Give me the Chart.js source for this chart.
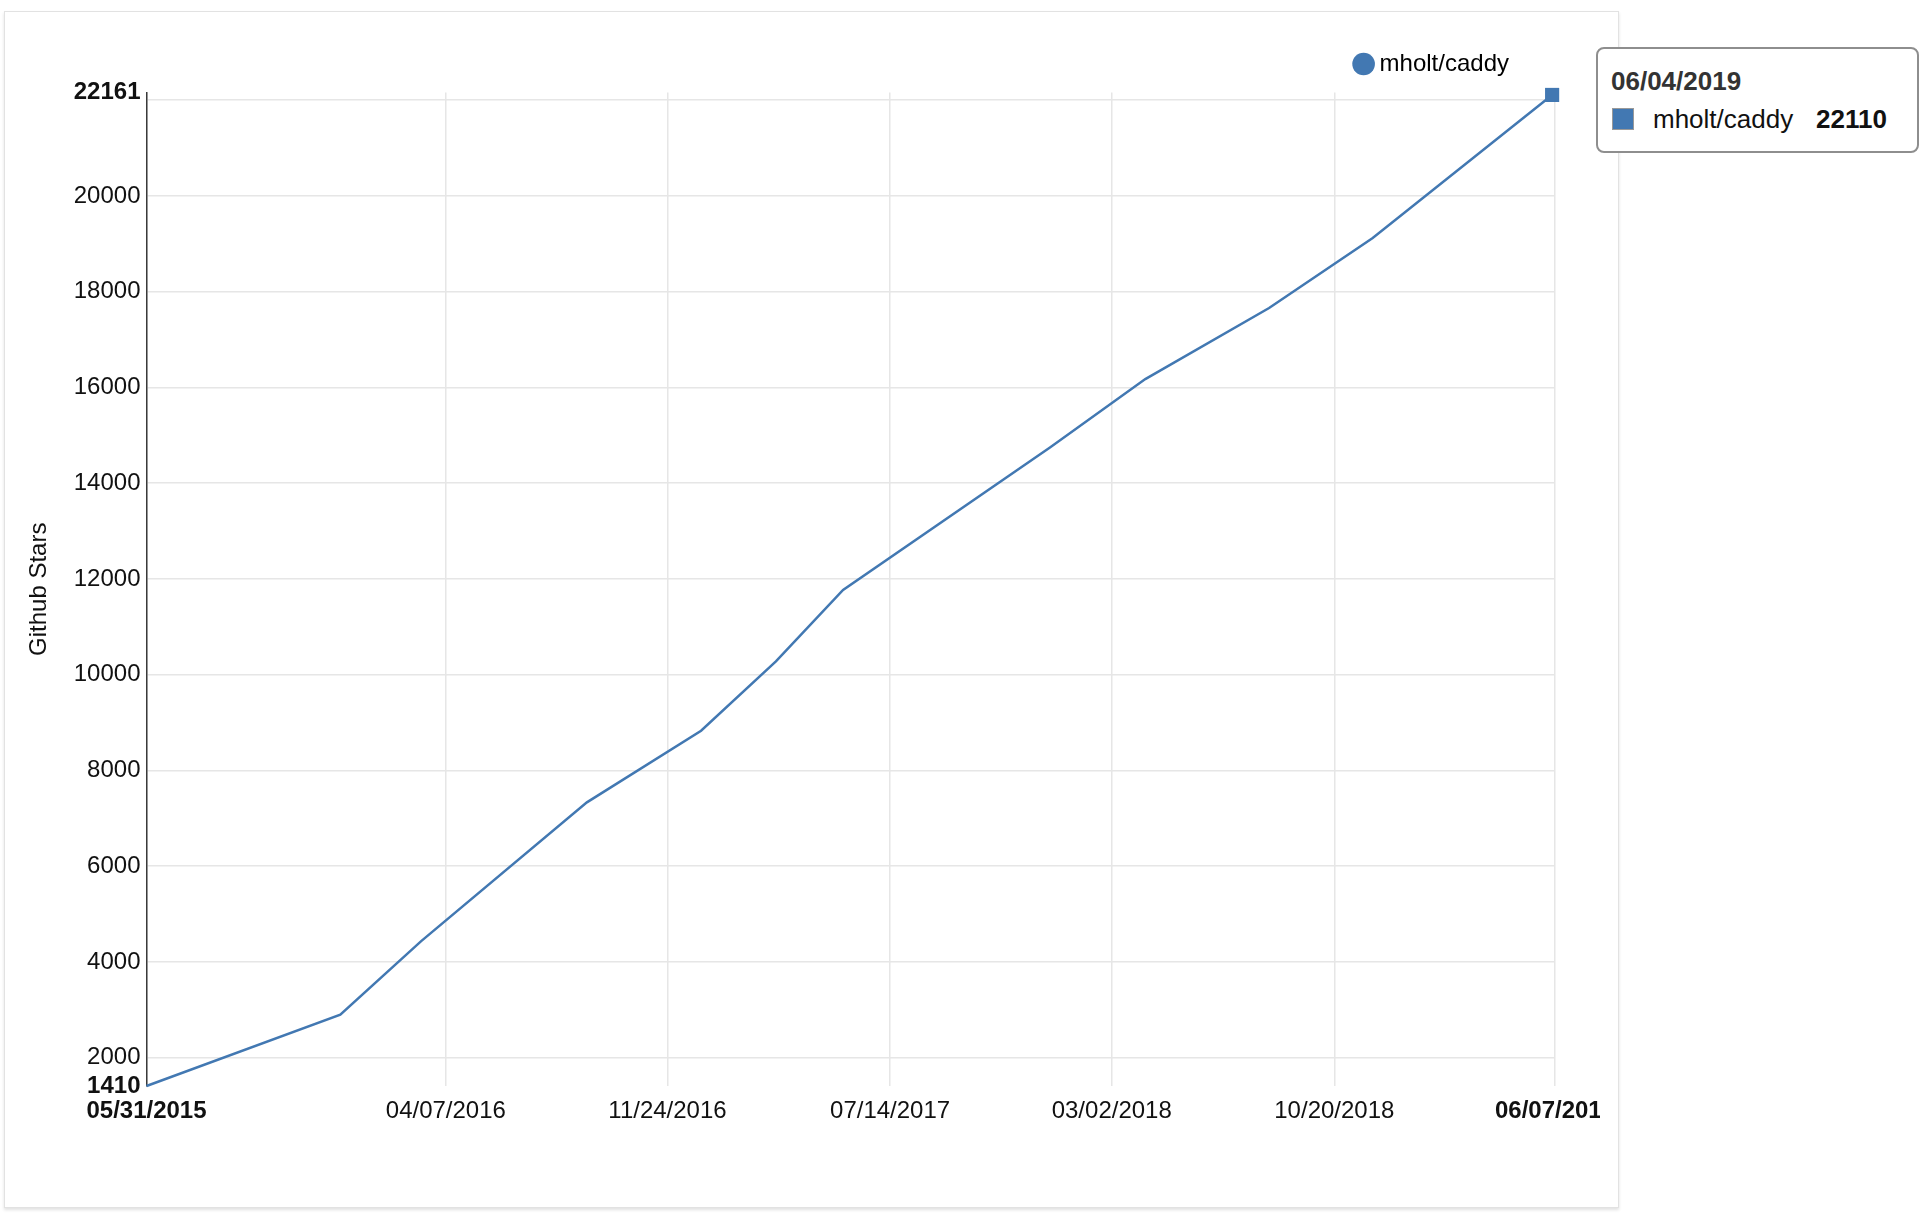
<!DOCTYPE html>
<html>
<head>
<meta charset="utf-8">
<script src="https://cdn.jsdelivr.net/npm/chart.js@4.4.1/dist/chart.umd.min.js"></script>
<style>
    body { margin: 0; background: #fff; font-family: "Liberation Sans", Arial, Helvetica, sans-serif; }
    #card {
        position: absolute; left: 4px; top: 11px; width: 1613px; height: 1195px;
        border: 1px solid #e2e2e2; box-shadow: 0 2px 3px rgba(0,0,0,0.12); background: #fff;
        overflow: hidden;
    }
    #stars { position: absolute; left: 0; top: 0; }
    #tip {
        position: absolute; left: 1596px; top: 47px; width: 323px; height: 106px;
        box-sizing: border-box; border: 2px solid #8e8e8e; border-radius: 8px; background: #fff;
        font-size: 26px; color: #111;
    }
    #tip div { position: absolute; line-height: 30px; white-space: nowrap; }
    #tipDate { left: 13px; top: 17px; font-weight: bold; color: #333; }
    #tipSwatch { left: 14px; top: 59px; width: 20px; height: 20px; border: 1px solid #999; }
    #tipName { left: 55px; top: 55px; }
    #tipValue { left: 218px; top: 55px; font-weight: bold; }
</style>
</head>
<body>
<div id="card"><canvas id="stars" width="1595" height="1195"></canvas></div>
<div id="tip">
    <div id="tipDate"></div>
    <div id="tipSwatch"></div>
    <div id="tipName"></div>
    <div id="tipValue"></div>
</div>
<script>
const repoName = 'mholt/caddy';
const lineColor = 'rgb(66, 120, 178)';

// star history
const dates = ['05/31/2015', '12/19/2015', '03/12/2016', '09/01/2016', '12/29/2016', '03/17/2017',
    '05/26/2017', '12/28/2017', '04/06/2018', '08/13/2018', '11/29/2018', '06/04/2019'];
const stars = [1410, 2900, 4430, 7335, 8830, 10280, 11770, 14750, 16175, 17660, 19120, 22110];

const xTickLabels = ['05/31/2015', '04/07/2016', '11/24/2016', '07/14/2017', '03/02/2018', '10/20/2018', '06/07/2019'];
const yMin = 1410;
const yMax = 22161;
const yTickValues = [1410, 2000, 4000, 6000, 8000, 10000, 12000, 14000, 16000, 18000, 20000, 22000, 22161];

const FONT = '"Liberation Sans", Arial, Helvetica, sans-serif';

function parseDate(s) {
    const [m, d, y] = s.split('/').map(Number);
    return Date.UTC(y, m - 1, d);
}
function pad(n) { return (n < 10 ? '0' : '') + n; }
function fmtDate(ts) {
    const d = new Date(ts);
    return pad(d.getUTCMonth() + 1) + '/' + pad(d.getUTCDate()) + '/' + d.getUTCFullYear();
}

const points = dates.map((d, i) => ({ x: parseDate(d), y: stars[i] }));
const last = points.length - 1;
const xTicks = xTickLabels.map(parseDate);

const ctx = document.getElementById('stars').getContext('2d');
const starChart = new Chart(ctx, {
    type: 'line',
    data: {
        datasets: [{
            label: repoName,
            data: points,
            borderColor: lineColor,
            backgroundColor: lineColor,
            borderWidth: 2.5,
            tension: 0,
            fill: false,
            clip: false,
            pointRadius: points.map((p, i) => i === last ? 10 : 0),
            pointStyle: 'rect',
            pointBorderWidth: 0,
            pointBackgroundColor: lineColor
        }]
    },
    options: {
        responsive: false,
        animation: false,
        events: [],
        layout: { padding: { left: 4, right: 45, top: -6, bottom: 0 } },
        plugins: {
            legend: {
                position: 'top',
                align: 'end',
                weight: 3000,
                labels: {
                    usePointStyle: true,
                    pointStyle: 'circle',
                    boxWidth: 8,
                    boxHeight: 16,
                    padding: 46,
                    color: '#111',
                    font: { family: FONT, size: 24 },
                    generateLabels: chart => [{
                        text: repoName,
                        fillStyle: lineColor,
                        strokeStyle: lineColor,
                        lineWidth: 0,
                        pointStyle: 'circle',
                        datasetIndex: 0
                    }]
                }
            },
            // empty spacer between legend and plot
            subtitle: { display: true, text: '', font: { size: 1 }, padding: { top: 0, bottom: 5.3 } },
            tooltip: { enabled: false }
        },
        scales: {
            x: {
                type: 'linear',
                min: parseDate(xTickLabels[0]),
                max: parseDate(xTickLabels[xTickLabels.length - 1]),
                afterBuildTicks: scale => { scale.ticks = xTicks.map(v => ({ value: v })); },
                afterFit: scale => { scale.height = 121; scale.paddingLeft = 0; scale.paddingRight = 0; },
                border: { display: false },
                grid: { color: '#e6e6e6', lineWidth: 1.5, drawTicks: false },
                ticks: {
                    autoSkip: false,
                    maxRotation: 0,
                    padding: 10.5,
                    color: '#111',
                    font: c => ({ family: FONT, size: 24,
                        weight: (c.index === 0 || c.index === xTicks.length - 1) ? 'bold' : 'normal' }),
                    callback: v => fmtDate(v)
                }
            },
            y: {
                min: yMin,
                max: yMax,
                afterBuildTicks: scale => { scale.ticks = yTickValues.map(v => ({ value: v })); },
                afterFit: scale => { scale.width = 137.5; scale.paddingTop = 0; scale.paddingBottom = 0; },
                border: { display: true, color: '#3a3a3a', width: 1.5 },
                grid: {
                    lineWidth: 1.5,
                    drawTicks: false,
                    color: c => (c.tick && (c.tick.value === yMin || c.tick.value === yMax)) ? 'rgba(0,0,0,0)' : '#e6e6e6'
                },
                title: {
                    display: true,
                    text: 'Github Stars',
                    color: '#111',
                    font: { family: FONT, size: 24 },
                    padding: { top: 15.6, bottom: 0 }
                },
                ticks: {
                    padding: 6,
                    color: '#111',
                    font: c => ({ family: FONT, size: 24,
                        weight: (c.tick && (c.tick.value === yMin || c.tick.value === yMax)) ? 'bold' : 'normal' }),
                    // 22000 label sits under the max label, so it is left blank
                    callback: v => (v === 22000 ? '' : String(v))
                }
            }
        }
    }
});

// static hover box for the latest point
document.getElementById('tipDate').textContent = dates[last];
document.getElementById('tipSwatch').style.background = lineColor;
document.getElementById('tipName').textContent = repoName;
document.getElementById('tipValue').textContent = stars[last];
</script>
</body>
</html>
